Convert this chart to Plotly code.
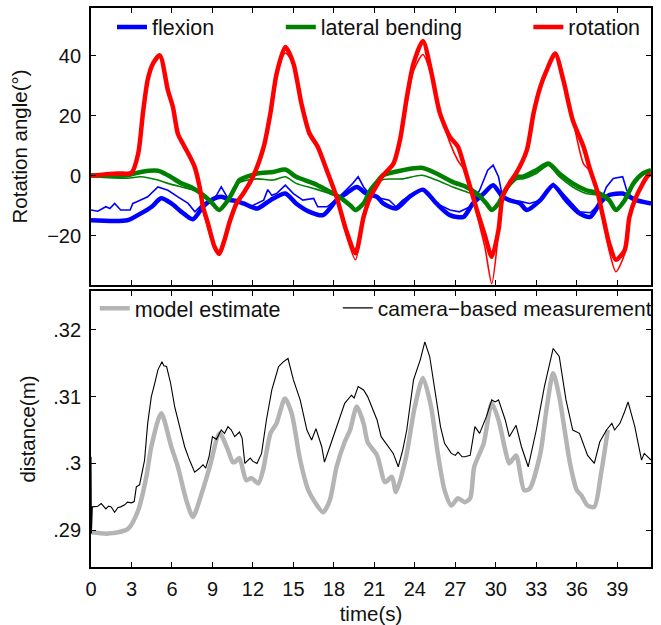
import plotly.graph_objects as go

# ---- top panel: rotation angles (thick = model estimate, thin = camera measurement) ----
rot_t = [0, 1, 2, 3.0, 3.5, 3.85, 4.2, 4.6, 5.1, 5.7, 6.07, 6.44, 6.8, 7.2, 7.68, 8.05, 8.3, 8.67, 9.16, 9.5,
         9.85, 10.3, 10.8, 11.3, 12.0, 12.8, 13.3, 13.75, 14.4, 15.0, 15.6, 16.2, 16.8, 17.46, 18.2, 18.9, 19.6,
         20.2, 20.7, 21.2, 21.6, 22.4, 22.9, 23.4, 23.9, 24.6, 25.2, 25.85, 26.6, 27.2, 27.8, 28.6, 29.2, 29.7,
         30.2, 30.5, 31.0, 31.5, 32.3, 32.8, 33.3, 33.75, 34.4, 35.0, 35.7, 36.5, 37.0, 37.5, 37.95, 38.4, 38.9,
         39.55, 39.9, 40.4, 41.2, 41.5]
rot_model = [0, 0.5, 0.8, 1, 7.5, 21, 32, 37.5, 40.2, 28.5, 23, 14, 10.8, 7.5, 3, -3.7, -10.3, -15.9, -23.7, -26,
             -22, -15, -9, -5.8, -0.3, 9.7, 21, 34, 43, 37.5, 24, 14, 9.7, 2, -7, -18, -25.8,
             -13.7, -7, -3, 0, 4, 12, 26, 37.5, 45, 35, 21, 13, 9.7, 0.8, -11.4, -20, -27,
             -18, -7, -2.5, 0.8, 8.6, 21, 29.7, 35, 40.8, 32, 18.6, 9.7, 1.9, -4.8, -13.7, -22.5, -28,
             -24.8, -13.7, -7, -0.3, 0.8]
rot_meas = [0, 0.3, 0.6, 0.8, 6.5, 20, 31, 37, 40, 29, 23.5, 15, 11, 8, 3.5, -4.5, -11.5, -17.5, -24.5, -26.5,
            -22.5, -15.5, -9.5, -6, -0.8, 9, 20, 33, 41, 37.5, 25, 15, 10.5, 2.5, -7.5, -19.5, -28,
            -15, -7.5, -3.5, -0.5, 3.5, 11, 24, 35, 40.5, 34, 22, 11, 5, 1, -13, -24, -36,
            -19, -7.5, -2.5, 0.5, 8, 20, 29, 34.5, 40.5, 33, 19, 4, 1.5, -5.5, -15, -25, -32,
            -26, -14, -7, -0.5, 0.5]

bend_t = [0, 2.7, 3.7, 4.96, 5.7, 6.7, 7.4, 8.17, 8.9, 9.5, 10.15, 10.7, 11.0, 12.3, 13.5, 14.4, 15.2, 16.5,
          17.5, 18.4, 19.2, 19.6, 20.2, 20.7, 21.2, 21.65, 23.1, 24.5, 25.6, 26.8, 27.8, 28.6, 29.3, 29.7,
          30.2, 30.7, 31.55, 32.0, 33.0, 33.9, 34.7, 35.7, 36.7, 37.7, 38.4, 38.9, 39.55, 40.2, 40.9, 41.5]
bend_model = [0.2, 0.2, 1.3, 1.7, 0.2, -2.5, -3.7, -5.9, -8.7, -11.4, -8.1, -3.7, -1.4, 0.8, 1.3, 2.1, -0.3,
              -2.5, -4.8, -7, -9.8, -11.4, -9.2, -4.8, -2, 0.2, 1.9, 2.7, 0.8, -2, -3.7, -5.9, -9.2, -11.4,
              -9.2, -4.8, -0.3, -0.3, 1.9, 4.1, 0.8, -2.5, -4.8, -5.9, -8.1, -11.4, -8.1, -2.5, 0.8, 1.9]
bend_meas = [-0.3, -0.8, -0.3, -1.4, -2.5, -3.7, -4.5, -6.2, -9, -11.6, -8.4, -4.2, -2.2, -1.0, -1.4, -0.3, -2.5,
             -4.2, -5.6, -7.4, -10, -11.6, -9.4, -5.2, -2.6, -1.2, -1, 0.2, -1.4, -3.7, -5.3, -6.6, -9.5, -11.6,
             -9.4, -5.2, -1.2, -1.0, 0.8, 3.5, -0.3, -3.7, -5.9, -6.6, -8.6, -11.6, -8.4, -3, 0.3, 1.5]

flex_t = [0, 2.7, 3.7, 4.5, 5.2, 5.95, 6.7, 7.55, 8.3, 8.9, 9.65, 10.3, 10.7, 11.3, 12.3, 13.3, 14.4, 15.2,
          16.2, 17.2, 18.2, 18.9, 19.7, 20.4, 21.2, 21.65, 22.6, 23.6, 24.6, 25.6, 26.6, 27.6, 28.3, 29.1,
          29.8, 30.5, 31.0, 31.8, 32.3, 33.3, 34.25, 35.2, 36.2, 37.0, 37.7, 38.4, 39.4, 40.4, 41.5]
flex_model = [-14.8, -14.8, -12.5, -10.3, -7.5, -9.2, -12, -14.5, -10.3, -8.1, -7, -8.1, -8.3, -9.2, -10.9,
              -8.1, -5.9, -9.2, -12, -13.1, -8.1, -5.9, -3.7, -5.9, -7, -9.2, -10.9, -7, -4.6, -9.2,
              -13.1, -13.7, -9.2, -5.9, -3.1, -7, -8.1, -9.2, -11.4, -8.1, -3.1, -8.1, -12.5, -13.7, -9.2,
              -6.4, -5.9, -8.1, -9.2]
flex_meas_t = [0, 0.5, 1.1, 1.4, 1.75, 2.2, 2.9, 3.1, 3.4, 4.2, 4.96, 5.7, 6.44, 7.2, 7.7, 8.3, 8.9, 9.3, 9.65,
               10.15, 10.8, 11.8, 12.8, 13.1, 13.4, 13.75, 14.4, 15.0, 15.7, 16.5, 16.8, 17.5, 18.4, 19.4, 19.8,
               20.2, 20.7, 21.2, 22.1, 22.6, 23.1, 24.6, 25.6, 26.6, 27.3, 28.1, 28.8, 29.4, 29.8, 30.2, 30.5,
               31.0, 31.8, 32.5, 33.3, 34.25, 35.2, 36.2, 37.0, 37.7, 38.2, 38.7, 39.4, 39.7, 40.2, 41.2, 41.5]
flex_meas = [-11.4, -11.8, -10.3, -10.9, -9.2, -11.4, -11.4, -9.2, -8.6, -7, -3.7, -4.8, -7, -9.2, -12, -9.2,
             -8.1, -6.5, -3.7, -7.5, -8.1, -10.3, -8.1, -4.6, -6.5, -5.9, -3.1, -5.9, -8.1, -7.5, -10.3, -10.3,
             -7, -2.5, -0.3, -3.7, -6.4, -7.2, -8.1, -10.3, -8.1, -4.3, -9.2, -11.4, -12, -10.3, -4.8, 1.9, 3.6,
             -0.3, -7, -8.1, -8.5, -9.2, -8.1, -2.5, -7, -12, -12.3, -9.2, -3.7, -0.9, -0.3, -4.8, -8.1, -9.2,
             -9.4]

# ---- bottom panel: distance ----
dist_model_t = [0, 1.26, 2.74, 3.5, 4.1, 4.47, 5.2, 5.95, 6.44, 7.06, 7.55, 8.2, 8.8, 9.53, 10.15, 10.5, 10.65,
                11.0, 11.5, 11.9, 12.4, 12.75, 13.3, 13.75, 14.37, 14.87, 15.5, 16.1, 16.6, 17.2, 17.7, 18.2,
                18.8, 19.2, 19.7, 20.2, 20.5, 21.2, 21.8, 22.3, 22.6, 23.3, 24.0, 24.6, 25.2, 25.7, 26.2, 26.7,
                27.2, 27.7, 28.1, 28.4, 29.1, 29.7, 30.2, 30.7, 31.0, 31.5, 32.1, 32.5, 33.3, 33.75, 34.25,
                34.7, 35.5, 36.0, 36.35, 36.8, 37.3, 37.8, 38.3]
dist_model = [.2897, .2895, .2902, .2930, .2980, .3025, .3075, .3025, .2995, .2945, .2920, .2955, .2995, .3045,
              .3020, .3002, .3002, .3008, .2975, .2978, .2970, .2990, .3045, .3060, .3097, .3075, .3005, .2960,
              .2942, .2927, .2945, .2995, .3032, .3050, .3085, .3060, .3032, .3012, .2972, .2980, .2957, .3005,
              .3085, .3128, .3085, .3015, .2960, .2937, .2948, .2942, .2948, .2995, .3030, .3090, .3065, .3020,
              .3000, .3012, .2960, .2962, .3015, .3080, .3135, .3100, .3000, .2960, .2952, .2937, .2935, .2985,
              .3050]
dist_meas_t = [0, 0.03, 0.1, 0.5, 0.76, 1.1, 1.3, 1.5, 1.75, 2.0, 2.2, 2.5, 2.7, 3.0, 3.2, 3.36, 3.6, 3.97, 4.2,
               4.47, 4.7, 4.96, 5.26, 5.4, 5.6, 5.9, 6.2, 6.5, 6.94, 7.3, 7.68, 8.0, 8.3, 8.5, 8.75, 9.0, 9.3,
               9.65, 9.9, 10.15, 10.4, 10.65, 11.0, 11.2, 11.4, 11.8, 12.0, 12.3, 12.64, 13.0, 13.4, 13.9, 14.25,
               14.6, 15.0, 15.5, 16.0, 16.35, 16.67, 17.1, 17.3, 17.7, 18.2, 18.5, 18.8, 19.3, 19.5, 19.8, 20.2,
               20.5, 20.8, 21.2, 21.5, 22.0, 22.4, 22.77, 23.1, 23.4, 23.9, 24.4, 24.74, 25.1, 25.6, 25.9, 26.2,
               26.7, 27.0, 27.2, 27.5, 27.7, 28.1, 28.3, 28.45, 28.8, 29.3, 29.7, 29.95, 30.2, 30.7, 31.0, 31.5,
               31.9, 32.4, 33.0, 33.6, 34.25, 34.5, 34.7, 35.2, 35.7, 36.2, 36.5, 36.8, 37.3, 37.7, 38.2, 38.6,
               38.8, 39.2, 39.5, 39.8, 40.3, 40.8, 41.0, 41.3, 41.5]
dist_meas = [.3010, .2895, .2935, .2936, .2940, .2932, .2936, .2935, .2927, .2934,
             .2935, .2938, .2942, .2941, .2943, .2965, .2968, .3005, .3060, .3100,
             .3118, .3140, .3152, .3146, .3145, .3120, .3085, .3060, .3025, .3005,
             .2987, .2992, .2998, .2993, .3010, .3040, .3036, .3050, .3045, .3055,
             .3050, .3040, .3047, .3038, .3000, .3008, .3003, .3000, .3015, .3065,
             .3110, .3145, .3152, .3157, .3125, .3095, .3050, .3035, .3052, .3025,
             .3002, .3025, .3055, .3075, .3090, .3102, .3098, .3115, .3110, .3100,
             .3085, .3065, .3040, .3027, .3015, .2995, .3020, .3050, .3125, .3155,
             .3182, .3160, .3090, .3055, .3030, .3015, .3012, .3017, .3010, .3010,
             .3012, .3035, .3055, .3045, .3070, .3095, .3092, .3095, .3065, .3040,
             .3057, .3025, .2995, .3050, .3115, .3172, .3165, .3160, .3095, .3050,
             .3045, .3030, .3012, .3000, .3032, .3050, .3060, .3050, .3060, .3075,
             .3092, .3055, .3005, .3015, .3008, .3005]

x_ticks = list(range(0, 40, 3))
top_ticks = [-20, 0, 20, 40]
top_ticktext = ["\u221220", "0", "20", "40"]
bot_ticks = [0.29, 0.30, 0.31, 0.32]
bot_ticktext = [".29", ".3", ".31", ".32"]

BLUE, GREEN, RED = "#0000ff", "#008000", "#ff0000"
GRAY, BLACK = "#b4b4b4", "#000000"
FONT = "Liberation Sans, Arial, sans-serif"
TXT = "#111111"

fig = go.Figure()

def add(x, y, color, width, ax, name=None, legend=None, smooth=False):
    line = dict(color=color, width=width)
    if smooth:
        line.update(shape="spline", smoothing=0.7)
    fig.add_trace(go.Scatter(
        x=x, y=y, mode="lines", line=line,
        xaxis="x" if ax == 1 else "x2", yaxis="y" if ax == 1 else "y2",
        name=name or "", showlegend=legend is not None, legend=legend or "legend",
    ))

add(flex_meas_t, flex_meas, BLUE, 1.6, 1)
add(flex_t, flex_model, BLUE, 4.5, 1, "flexion", "legend", smooth=True)
add(bend_t, bend_meas, GREEN, 1.6, 1, smooth=True)
add(bend_t, bend_model, GREEN, 4.5, 1, "lateral bending", "legend2", smooth=True)
add(rot_t, rot_meas, RED, 1.6, 1, smooth=True)
add(rot_t, rot_model, RED, 4.5, 1, "rotation", "legend3", smooth=True)

add(dist_model_t, dist_model, GRAY, 4.5, 2, "model estimate", "legend4", smooth=True)
add(dist_meas_t, dist_meas, BLACK, 1.1, 2, "camera\u2212based measurement", "legend5")

axis_common = dict(
    showline=True, linecolor="black", linewidth=1.8, mirror="ticks",
    ticks="inside", ticklen=5, tickwidth=1, tickcolor="black",
    showgrid=False, zeroline=False,
    tickfont=dict(family=FONT, size=20, color=TXT),
)

x_range = [0, 41.5]
fig.update_layout(
    width=661, height=625,
    margin=dict(l=91, r=10, t=8, b=58, autoexpand=False),
    paper_bgcolor="white", plot_bgcolor="white",
    font=dict(family=FONT, size=20, color=TXT),
    xaxis=dict(axis_common, domain=[0, 1], range=x_range, anchor="y",
               tickvals=x_ticks, showticklabels=False),
    yaxis=dict(axis_common, domain=[0.5045, 1], range=[-36.4, 56], anchor="x",
               tickvals=top_ticks, ticktext=top_ticktext, ticklabelstandoff=4,
               title=dict(text="Rotation angle(\u00b0)", standoff=14,
                          font=dict(family=FONT, size=20.5, color=TXT))),
    xaxis2=dict(axis_common, domain=[0, 1], range=x_range, anchor="y2",
                tickvals=x_ticks, ticktext=[str(v) for v in x_ticks], ticklabelstandoff=3,
                title=dict(text="time(s)", standoff=8, font=dict(family=FONT, size=20.5, color=TXT))),
    yaxis2=dict(axis_common, domain=[0, 0.4937], range=[0.2845, 0.3258], anchor="x2",
                tickvals=bot_ticks, ticktext=bot_ticktext, ticklabelstandoff=4,
                title=dict(text="distance(m)", standoff=12,
                           font=dict(family=FONT, size=20.5, color=TXT))),
)

def legend_at(x, y, size=21.5):
    return dict(x=x, y=y, xanchor="left", yanchor="middle", orientation="h",
                bgcolor="rgba(0,0,0,0)", borderwidth=0,
                font=dict(family=FONT, size=size, color=TXT), itemwidth=30)

fig.update_layout(
    legend=legend_at(0.0375, 0.966),
    legend2=legend_at(0.339, 0.966),
    legend3=legend_at(0.781, 0.966),
    legend4=legend_at(0.0067, 0.463),
    legend5=legend_at(0.4407, 0.463, size=21),
)

fig.write_html("out.html")
